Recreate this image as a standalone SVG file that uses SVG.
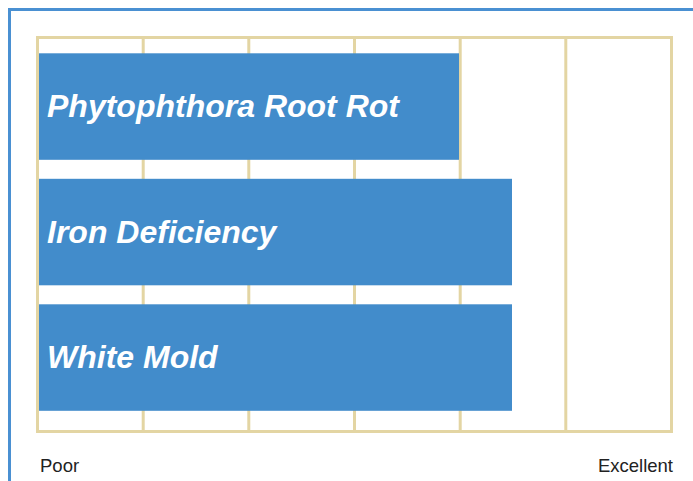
<svg xmlns="http://www.w3.org/2000/svg" width="693" height="481" viewBox="0 0 693 481">
<style>
.grid{fill:none;stroke:#e3d5a3;stroke-width:3}
.bar{fill:#428ccb}
.lbl{font-family:"Liberation Sans",Arial,sans-serif;font-weight:bold;font-style:italic;font-size:32px;fill:#ffffff}
.axis{font-family:"Liberation Sans",Arial,sans-serif;font-size:18.5px;fill:#222222}
</style>
<rect x="0" y="0" width="693" height="481" fill="#ffffff"/>
<rect x="9.5" y="9.5" width="700" height="490" fill="none" stroke="#4a90d2" stroke-width="3"/>
<g id="grid">
<rect class="grid" x="37.5" y="37.5" width="634" height="394"/>
<path class="grid" d="M143.2 37.5V431.5M248.8 37.5V431.5M354.5 37.5V431.5M460.2 37.5V431.5M565.8 37.5V431.5"/>
</g>
<g id="bar1"><rect class="bar" x="39" y="53.3" width="420" height="106.5"/><text class="lbl" x="47" y="117">Phytophthora Root Rot</text></g>
<g id="bar2"><rect class="bar" x="39" y="178.8" width="473" height="106.5"/><text class="lbl" x="47" y="242.5">Iron Deficiency</text></g>
<g id="bar3"><rect class="bar" x="39" y="304.3" width="473" height="106.5"/><text class="lbl" x="47" y="368">White Mold</text></g>
<g id="axis">
<text class="axis" x="40" y="471.5">Poor</text>
<text class="axis" x="673" y="471.5" text-anchor="end">Excellent</text>
</g>
</svg>
